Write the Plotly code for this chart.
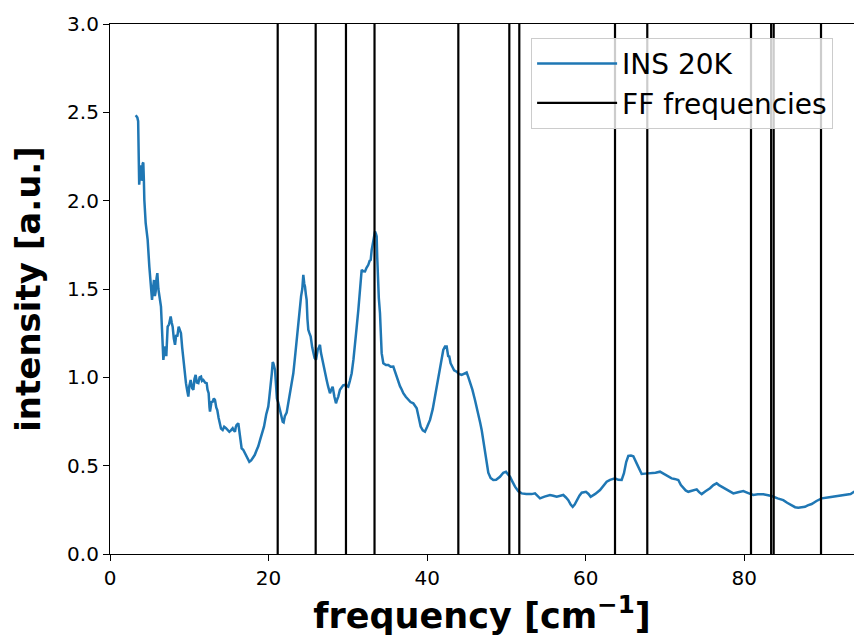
import plotly.graph_objects as go

# INS 20K spectrum (frequency in cm^-1, intensity in a.u.)
freq = [3.24, 3.45, 3.55, 3.6, 3.68, 3.8, 3.87, 3.95, 4.04, 4.12, 4.2, 4.27, 4.33, 4.5, 4.75, 4.96, 5.17, 5.3, 5.42, 5.55,
        5.66, 5.76, 5.87, 5.97, 6.1, 6.22, 6.43, 6.56, 6.73, 6.85, 6.98, 7.1, 7.27, 7.45, 7.65, 7.78, 7.9, 8.05, 8.2, 8.35,
        8.49, 8.66, 8.8, 8.95, 9.1, 9.25, 9.4, 9.58, 9.72, 9.88, 10.0, 10.17, 10.35, 10.51, 10.65, 10.8, 10.95, 11.14, 11.3, 11.48,
        11.6, 11.77, 12.0, 12.19, 12.3, 12.44, 12.55, 12.61, 12.8, 12.95, 13.1, 13.24, 13.4, 13.53, 13.7, 13.87, 14.0, 14.21, 14.4, 14.63,
        14.85, 15.05, 15.25, 15.47, 15.6, 15.76, 15.87, 15.97, 16.18, 16.3, 16.39, 16.5, 16.6, 16.8, 17.02, 17.3, 17.57, 17.8, 18.0, 18.25,
        18.5, 18.7, 18.92, 19.2, 19.42, 19.7, 19.96, 20.1, 20.26, 20.4, 20.52, 20.6, 20.81, 20.95, 21.05, 21.2, 21.44, 21.6, 21.78, 21.9,
        22.05, 22.28, 22.5, 22.7, 22.91, 23.12, 23.3, 23.54, 23.75, 23.96, 24.1, 24.25, 24.38, 24.5, 24.59, 24.7, 24.8, 24.9, 25.01, 25.15,
        25.31, 25.5, 25.64, 25.8, 25.98, 26.1, 26.19, 26.35, 26.48, 26.6, 26.7, 26.85, 26.99, 27.15, 27.32, 27.5, 27.74, 27.9, 28.08, 28.3,
        28.5, 28.65, 28.79, 29.0, 29.22, 29.4, 29.64, 29.85, 30.05, 30.25, 30.48, 30.7, 30.9, 31.1, 31.32, 31.5, 31.74, 31.95, 32.16, 32.35,
        32.58, 32.75, 32.88, 33.0, 33.13, 33.3, 33.42, 33.55, 33.63, 33.7, 33.76, 33.9, 34.05, 34.15, 34.26, 34.47, 34.8, 35.1, 35.4, 35.73,
        35.95, 36.16, 36.35, 36.57, 36.8, 36.99, 37.3, 37.62, 37.9, 38.25, 38.5, 38.68, 38.9, 39.18, 39.45, 39.72, 40.0, 40.36, 40.7, 40.99,
        41.3, 41.62, 41.85, 42.03, 42.25, 42.46, 42.65, 42.79, 42.95, 43.09, 43.4, 43.72, 44.0, 44.35, 44.7, 44.98, 45.2, 45.4, 45.7, 46.03,
        46.24, 46.45, 46.7, 46.88, 47.08, 47.29, 47.5, 47.71, 48.0, 48.34, 48.7, 49.18, 49.6, 49.94, 50.2, 50.45, 50.75, 51.08, 51.5, 51.92,
        52.5, 53.18, 53.6, 53.9, 54.23, 54.8, 55.49, 55.9, 56.34, 56.8, 57.17, 57.5, 57.8, 58.1, 58.35, 58.6, 58.86, 59.2, 59.49, 60.03,
        60.35, 60.62, 61.2, 61.8, 62.64, 63.06, 63.69, 64.1, 64.53, 64.82, 65.1, 65.37, 65.7, 66.0, 66.42, 66.8, 67.05, 67.5, 68.1, 68.8,
        69.36, 69.8, 70.2, 70.5, 70.83, 71.2, 71.67, 72.0, 72.3, 72.6, 72.93, 73.4, 73.99, 74.3, 74.62, 75.1, 75.67, 76.1, 76.51, 76.8,
        77.14, 77.5, 77.98, 78.3, 78.61, 79.2, 79.87, 80.5, 81.13, 81.7, 82.39, 83.0, 83.44, 84.2, 84.91, 85.4, 85.96, 86.4, 86.8, 87.2,
        87.65, 88.0, 88.49, 89.1, 89.75, 90.5, 91.22, 92.0, 92.9, 93.4, 93.82, 94.5]
intensity = [2.483, 2.47, 2.45, 2.2, 2.09, 2.17, 2.2, 2.12, 2.119, 2.21, 2.216, 2.12, 2.005, 1.873, 1.778, 1.627, 1.495, 1.438, 1.5, 1.551,
             1.46, 1.485, 1.56, 1.59, 1.5, 1.457, 1.4, 1.269, 1.099, 1.15, 1.174, 1.12, 1.287, 1.3, 1.344, 1.31, 1.287, 1.22, 1.184, 1.24,
             1.231, 1.287, 1.27, 1.25, 1.17, 1.099, 1.02, 0.967, 0.93, 0.891, 0.95, 0.985, 0.94, 0.929, 0.99, 1.014, 0.97, 0.967, 1.0, 1.004,
             0.98, 0.985, 0.97, 0.967, 0.93, 0.91, 0.83, 0.806, 0.86, 0.862, 0.88, 0.872, 0.83, 0.815, 0.77, 0.73, 0.71, 0.702, 0.72, 0.712,
             0.7, 0.692, 0.7, 0.712, 0.7, 0.692, 0.72, 0.73, 0.74, 0.7, 0.683, 0.63, 0.598, 0.59, 0.57, 0.545, 0.522, 0.53, 0.542, 0.56,
             0.589, 0.61, 0.645, 0.69, 0.721, 0.79, 0.834, 0.89, 0.947, 1.02, 1.086, 1.08, 1.042, 0.97, 0.88, 0.86, 0.815, 0.78, 0.749, 0.745,
             0.78, 0.8, 0.86, 0.9, 0.95, 1.023, 1.1, 1.21, 1.33, 1.42, 1.46, 1.5, 1.58, 1.53, 1.514, 1.47, 1.438, 1.33, 1.269, 1.25,
             1.231, 1.17, 1.137, 1.11, 1.099, 1.14, 1.155, 1.17, 1.184, 1.14, 1.118, 1.07, 1.042, 1.01, 0.985, 0.95, 0.91, 0.93, 0.947, 0.89,
             0.853, 0.875, 0.891, 0.93, 0.947, 0.955, 0.957, 0.95, 0.947, 0.98, 1.023, 1.1, 1.174, 1.28, 1.382, 1.5, 1.608, 1.6, 1.599, 1.62,
             1.637, 1.66, 1.665, 1.72, 1.76, 1.8, 1.826, 1.81, 1.797, 1.68, 1.552, 1.45, 1.363, 1.25, 1.137, 1.08, 1.07, 1.07, 1.06, 1.061,
             1.03, 1.004, 0.98, 0.95, 0.93, 0.91, 0.89, 0.872, 0.86, 0.853, 0.84, 0.825, 0.78, 0.721, 0.7, 0.692, 0.72, 0.759, 0.82, 0.891,
             0.97, 1.042, 1.11, 1.155, 1.174, 1.174, 1.12, 1.118, 1.08, 1.07, 1.04, 1.032, 1.02, 1.014, 1.02, 1.027, 1.0, 0.976, 0.93, 0.872,
             0.834, 0.79, 0.74, 0.7, 0.64, 0.58, 0.5, 0.46, 0.43, 0.419, 0.42, 0.437, 0.46, 0.466, 0.45, 0.437, 0.41, 0.381, 0.355, 0.343,
             0.34, 0.339, 0.343, 0.33, 0.315, 0.325, 0.334, 0.33, 0.324, 0.33, 0.334, 0.32, 0.305, 0.28, 0.267, 0.28, 0.305, 0.33, 0.347, 0.352,
             0.34, 0.324, 0.34, 0.362, 0.409, 0.42, 0.428, 0.42, 0.419, 0.457, 0.52, 0.555, 0.557, 0.553, 0.513, 0.48, 0.453, 0.455, 0.457, 0.46,
             0.466, 0.455, 0.447, 0.44, 0.428, 0.425, 0.419, 0.39, 0.372, 0.36, 0.352, 0.36, 0.366, 0.35, 0.339, 0.355, 0.372, 0.39, 0.4, 0.39,
             0.381, 0.37, 0.362, 0.35, 0.343, 0.35, 0.356, 0.345, 0.334, 0.338, 0.338, 0.333, 0.328, 0.315, 0.305, 0.29, 0.277, 0.265, 0.262, 0.263,
             0.267, 0.275, 0.283, 0.3, 0.315, 0.32, 0.324, 0.328, 0.334, 0.34, 0.352, 0.36]

# force-field frequencies (cm^-1)
ff_freqs = [21.15, 25.94, 29.76, 33.36, 43.93, 50.36, 51.62, 63.69, 67.76, 80.84, 83.38, 83.7, 89.67]

y_limits = [0.0, 3.0]
x_limits = [0.0, 93.83]
x_ticks = [0, 20, 40, 60, 80]
y_ticks = [0.0, 0.5, 1.0, 1.5, 2.0, 2.5, 3.0]

vx, vy = [], []
for f in ff_freqs:
    vx += [f, f, None]
    vy += [y_limits[0], y_limits[1], None]

fig = go.Figure()
fig.add_trace(go.Scatter(x=freq, y=intensity, mode="lines", name="INS 20K",
                         line=dict(color="#1f77b4", width=2.5)))
fig.add_trace(go.Scatter(x=vx, y=vy, mode="lines", name="FF frequencies",
                         line=dict(color="black", width=2.2)))

font_family = "DejaVu Sans"
fig.update_layout(
    width=854, height=637,
    margin=dict(l=110, r=0, t=24, b=83),
    paper_bgcolor="white", plot_bgcolor="white",
    font=dict(family=font_family, color="black", size=20),
    showlegend=True,
    legend=dict(x=0.566, y=0.974, xanchor="left", yanchor="top",
                bgcolor="rgba(255,255,255,0.8)", bordercolor="#cccccc", borderwidth=1,
                font=dict(family=font_family, size=28, color="black"),
                itemwidth=80, tracegroupgap=0, entrywidth=228, entrywidthmode="pixels"),
    xaxis=dict(range=x_limits, tickvals=x_ticks, ticks="outside", ticklen=6, tickwidth=1.2,
               tickcolor="black", showline=True, linecolor="black", linewidth=1.2, mirror=True,
               showgrid=False, zeroline=False, tickfont=dict(size=20),
               title=dict(text="<b>frequency [cm<sup>−1</sup>]</b>", font=dict(size=35), standoff=6)),
    yaxis=dict(range=y_limits, tickvals=y_ticks, tickformat=".1f", ticks="outside", ticklen=6,
               tickwidth=1.2, tickcolor="black", showline=True, linecolor="black", linewidth=1.2,
               showgrid=False, zeroline=False, tickfont=dict(size=20),
               title=dict(text="<b>intensity [a.u.]</b>", font=dict(size=34), standoff=16)),
)

# remove the default page margin so the 854x637 figure fills the window exactly
fig.write_html("out.html", config={"displayModeBar": False},
               post_script="document.body.style.margin='0';document.body.style.overflow='hidden';")
